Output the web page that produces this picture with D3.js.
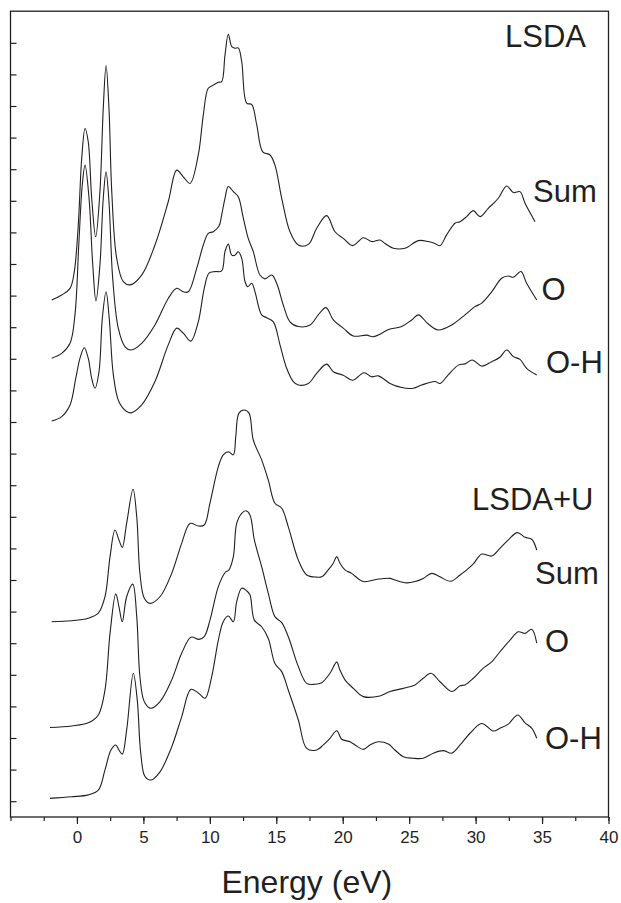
<!DOCTYPE html>
<html>
<head>
<meta charset="utf-8">
<script src="https://cdn.jsdelivr.net/npm/d3@7/dist/d3.min.js"></script>
<style>
  html, body { margin: 0; padding: 0; background: #fff; }
  svg { display: block; font-family: "Liberation Sans", Arial, Helvetica, sans-serif; }
</style>
</head>
<body>
<div id="chart"></div>
<script>
// ---- Data (energy in eV, intensity in y-tick units, curves already offset) ----
const xTicks = [-5, -2.5, 0, 2.5, 5, 7.5, 10, 12.5, 15, 17.5, 20, 22.5, 25, 27.5, 30, 32.5, 35, 37.5, 40];
const xTickLabels = [0, 5, 10, 15, 20, 25, 30, 35, 40];
const yTicks = d3.range(0, 25);

const lsdaSum = [[-1.90,15.86],[-1.15,16.02],[-0.52,16.23],[-0.20,16.76],[0.10,18.23],[0.36,20.35],[0.61,21.29],[0.85,20.87],[1.11,19.08],[1.41,17.86],[1.73,19.29],[1.98,21.93],[2.19,23.28],[2.41,21.93],[2.62,19.29],[2.99,17.18],[3.49,16.44],[3.99,16.34],[4.87,16.65],[5.87,17.60],[6.87,18.97],[7.51,19.97],[8.00,19.76],[8.51,19.55],[9.13,20.45],[9.51,21.72],[9.88,22.56],[10.26,22.66],[10.64,22.75],[10.89,22.77],[11.14,23.61],[11.39,24.27],[11.65,23.88],[11.89,23.83],[12.14,23.84],[12.40,23.40],[12.77,22.09],[13.15,22.05],[13.53,21.40],[13.98,20.55],[14.53,20.45],[14.90,20.13],[15.41,19.08],[16.03,18.02],[16.66,17.60],[17.41,17.62],[18.04,18.13],[18.79,18.53],[19.42,18.02],[20.04,17.81],[20.75,17.58],[21.55,17.83],[22.18,17.71],[22.80,17.76],[23.18,17.65],[23.81,17.50],[24.69,17.50],[25.69,17.74],[26.44,17.71],[26.94,17.65],[27.32,17.58],[27.82,17.92],[28.45,18.29],[28.82,18.34],[29.33,18.50],[29.83,18.69],[30.33,18.50],[30.95,18.76],[31.71,19.08],[32.34,19.47],[32.84,19.26],[33.34,19.29],[33.72,18.92],[34.47,18.34]];

const lsdaO = [[-1.90,14.02],[-1.15,14.17],[-0.52,14.49],[-0.15,15.39],[0.15,17.71],[0.40,19.50],[0.61,20.13],[0.91,19.08],[1.19,16.97],[1.43,15.83],[1.73,16.97],[1.98,19.08],[2.19,19.92],[2.41,18.97],[2.69,16.55],[3.11,14.97],[3.62,14.38],[4.07,14.28],[4.87,14.49],[5.87,15.07],[6.87,15.91],[7.51,16.23],[8.00,16.12],[8.38,16.12],[9.01,16.86],[9.51,17.60],[9.88,17.97],[10.26,18.02],[10.69,18.20],[10.89,18.55],[11.14,19.08],[11.39,19.45],[11.77,19.29],[12.14,19.13],[12.52,18.45],[12.89,17.81],[13.27,17.39],[13.77,16.65],[14.15,16.53],[14.66,16.65],[15.03,16.39],[15.53,15.70],[16.03,15.17],[16.66,15.02],[17.54,15.07],[18.16,15.39],[18.74,15.62],[19.29,15.23],[20.04,14.97],[20.80,14.72],[21.80,14.75],[22.30,14.70],[23.56,14.94],[24.44,15.02],[25.19,15.23],[25.69,15.39],[26.44,15.10],[27.19,14.91],[28.20,15.07],[29.20,15.39],[29.95,15.65],[30.46,15.76],[31.21,16.12],[31.96,16.55],[32.46,16.62],[32.84,16.58],[33.41,16.76],[33.84,16.39],[34.60,15.86]];

const lsdaOH = [[-1.90,12.03],[-1.15,12.17],[-0.52,12.54],[-0.09,13.38],[0.23,14.02],[0.55,14.35],[0.85,14.02],[1.11,13.38],[1.36,13.07],[1.66,13.59],[1.91,15.28],[2.19,16.12],[2.43,15.28],[2.74,13.49],[3.16,12.64],[3.74,12.33],[4.07,12.29],[4.87,12.54],[5.87,13.28],[6.87,14.44],[7.51,14.97],[8.00,14.81],[8.56,14.56],[9.13,15.17],[9.58,16.23],[9.94,16.71],[10.39,16.76],[10.89,16.78],[11.14,17.39],[11.39,17.63],[11.65,17.28],[11.89,17.28],[12.14,17.39],[12.40,17.18],[12.65,16.44],[12.85,16.28],[13.15,16.39],[13.40,16.12],[13.90,15.39],[14.28,15.30],[14.78,15.17],[15.28,14.44],[15.78,13.70],[16.28,13.28],[16.66,13.17],[17.41,13.22],[18.04,13.54],[18.79,13.83],[19.29,13.59],[20.04,13.48],[20.75,13.32],[21.60,13.56],[22.18,13.43],[22.68,13.46],[23.56,13.22],[24.44,13.09],[25.31,13.07],[25.94,13.17],[26.94,13.28],[27.32,13.22],[27.94,13.49],[28.70,13.80],[29.20,13.84],[29.75,13.96],[30.46,13.77],[31.21,13.91],[31.83,14.05],[32.34,14.28],[32.84,14.07],[33.34,13.98],[33.84,13.70],[34.60,13.49]];

const lsdauSum = [[-1.90,5.68],[-0.40,5.71],[0.85,5.79],[1.61,5.95],[2.11,6.47],[2.49,7.74],[2.86,8.58],[3.16,8.27],[3.41,8.03],[3.74,8.79],[4.22,9.87],[4.50,9.00],[4.74,7.21],[5.07,6.42],[5.50,6.26],[6.25,6.47],[7.13,7.21],[7.88,8.16],[8.51,8.79],[9.13,8.71],[9.58,8.74],[10.01,9.43],[10.64,10.59],[11.01,10.96],[11.39,11.06],[11.77,10.96],[11.95,11.53],[12.19,12.28],[12.59,12.38],[12.95,12.28],[13.27,11.43],[13.90,10.80],[14.40,10.16],[14.90,9.43],[15.41,9.27],[15.90,8.69],[16.66,7.63],[17.29,7.16],[18.04,7.09],[18.42,7.10],[18.91,7.32],[19.29,7.53],[19.55,7.74],[19.79,7.53],[20.17,7.32],[20.67,7.21],[21.55,6.95],[22.68,7.03],[23.56,7.05],[23.93,7.00],[24.81,6.91],[25.44,6.95],[26.06,7.05],[26.70,7.21],[27.32,7.10],[28.13,6.96],[28.83,7.16],[29.33,7.32],[29.83,7.51],[30.46,7.82],[31.21,7.76],[31.83,8.00],[32.46,8.27],[33.14,8.50],[33.72,8.35],[34.22,8.29],[34.60,7.95]];

const lsdauO = [[-2.03,2.33],[-0.40,2.38],[0.85,2.48],[1.61,2.73],[2.11,3.52],[2.49,5.31],[2.92,6.56],[3.16,6.16],[3.41,5.68],[3.74,6.47],[4.20,6.87],[4.50,5.84],[4.74,3.94],[5.07,3.15],[5.57,2.94],[6.25,3.15],[7.13,3.84],[7.88,4.68],[8.58,5.19],[9.18,5.12],[9.58,5.21],[10.01,5.73],[10.64,6.79],[11.14,7.23],[11.44,7.32],[11.77,7.74],[12.02,8.79],[12.40,9.11],[12.72,9.19],[13.02,9.06],[13.35,8.27],[13.90,7.42],[14.40,6.58],[14.90,5.84],[15.41,5.65],[15.90,5.21],[16.66,4.26],[17.29,3.73],[17.91,3.70],[18.42,3.75],[19.04,4.05],[19.55,4.40],[19.79,4.15],[20.17,3.84],[20.80,3.57],[21.55,3.31],[22.80,3.33],[23.56,3.47],[24.56,3.57],[25.44,3.68],[26.06,3.89],[26.64,4.05],[27.32,3.78],[28.20,3.47],[28.83,3.65],[29.20,3.68],[29.83,3.89],[30.58,4.21],[31.21,4.41],[31.83,4.73],[32.59,5.10],[33.21,5.36],[33.72,5.31],[34.22,5.44],[34.60,5.00]];

const lsdauOH = [[-2.03,0.09],[-0.40,0.14],[0.85,0.20],[1.61,0.35],[2.11,0.99],[2.56,1.62],[2.92,1.78],[3.16,1.62],[3.41,1.49],[3.74,2.25],[4.24,4.05],[4.54,3.20],[4.80,1.52],[5.12,0.78],[5.57,0.67],[6.25,0.93],[7.13,1.72],[7.88,2.67],[8.58,3.54],[9.18,3.41],[9.64,3.26],[10.14,3.94],[10.64,5.10],[11.01,5.68],[11.39,5.86],[11.77,5.68],[12.02,6.31],[12.40,6.74],[12.77,6.66],[13.02,6.53],[13.35,5.73],[13.90,5.52],[14.40,5.15],[14.90,4.36],[15.41,4.10],[15.90,3.52],[16.66,2.57],[17.29,1.67],[18.04,1.62],[18.54,1.78],[19.04,1.99],[19.55,2.23],[19.92,1.96],[20.55,1.88],[20.92,1.78],[21.55,1.64],[22.05,1.78],[22.68,1.88],[23.43,1.81],[23.93,1.62],[24.56,1.41],[25.31,1.36],[26.06,1.36],[26.82,1.52],[27.57,1.60],[28.20,1.52],[28.83,1.78],[29.58,2.15],[30.46,2.46],[31.33,2.22],[31.83,2.31],[32.46,2.44],[33.17,2.73],[33.72,2.48],[34.22,2.31],[34.60,1.99]];

const seriesList = [lsdaSum, lsdaO, lsdaOH, lsdauSum, lsdauO, lsdauOH];
const curveLabels = ["Sum", "O", "O-H", "Sum", "O", "O-H"];
const panelTitles = ["LSDA", "LSDA+U"];
const xTitle = "Energy (eV)";

// ---- Layout ----
const W = 621, H = 903;
const svg = d3.select("#chart").append("svg").attr("width", W).attr("height", H);

const x = d3.scaleLinear().domain([-5, 40]).range([10.5, 608.5]);
const y = d3.scaleLinear().domain([-0.5, 25]).range([817, 11.2]);

const ink = "#231f20";

// curves
const line = d3.line().x(d => x(d[0])).y(d => y(d[1])).curve(d3.curveCatmullRom.alpha(0.5));
svg.append("g").selectAll("path").data(seriesList).join("path")
  .attr("d", line).attr("fill", "none").attr("stroke", ink).attr("stroke-width", 1.1);

// frame
svg.append("rect").attr("x", x(-5)).attr("y", y(25)).attr("width", x(40) - x(-5)).attr("height", y(-0.5) - y(25))
  .attr("fill", "none").attr("stroke", ink).attr("stroke-width", 1.3);

// x axis: minor + major ticks
const xAxis = d3.axisBottom(x).tickValues(xTicks).tickSize(4).tickFormat("");
const gx = svg.append("g").attr("transform", `translate(0,${y(-0.5)})`).call(xAxis);
gx.select(".domain").remove();
gx.selectAll("line").attr("stroke", ink).attr("stroke-width", 1.2);
const xMajor = d3.axisBottom(x).tickValues(xTickLabels).tickSize(7).tickPadding(7).tickFormat(d3.format("d"));
const gx2 = svg.append("g").attr("transform", `translate(0,${y(-0.5)})`).call(xMajor);
gx2.select(".domain").remove();
gx2.selectAll("line").attr("stroke", ink).attr("stroke-width", 1.2);
gx2.selectAll("text").attr("font-size", 17).attr("fill", ink)
  .attr("font-family", '"Liberation Sans", Arial, sans-serif');

// y axis: inward ticks, no labels
const yAxis = d3.axisLeft(y).tickValues(yTicks).tickSize(-6).tickFormat("");
const gy = svg.append("g").attr("transform", `translate(${x(-5)},0)`).call(yAxis);
gy.select(".domain").remove();
gy.selectAll("line").attr("stroke", ink).attr("stroke-width", 1.2);

// x title
svg.append("text").attr("x", x(17.3)).attr("y", 893).attr("text-anchor", "middle")
  .attr("font-size", 32).attr("fill", ink).text(xTitle);

// panel titles
const tfont = 31;
svg.append("text").attr("x", 505).attr("y", 46.5).attr("font-size", tfont).attr("fill", ink).text(panelTitles[0]);
svg.append("text").attr("x", 472).attr("y", 510).attr("font-size", tfont).attr("fill", ink).text(panelTitles[1]);

// curve labels
const labelPos = [[533, 201.5], [541.5, 300], [546, 373], [535, 583.5], [545, 651.5], [545, 748.5]];
svg.append("g").selectAll("text").data(curveLabels).join("text")
  .attr("x", (d, i) => labelPos[i][0]).attr("y", (d, i) => labelPos[i][1])
  .attr("font-size", tfont).attr("fill", ink).text(d => d);
</script>
</body>
</html>
